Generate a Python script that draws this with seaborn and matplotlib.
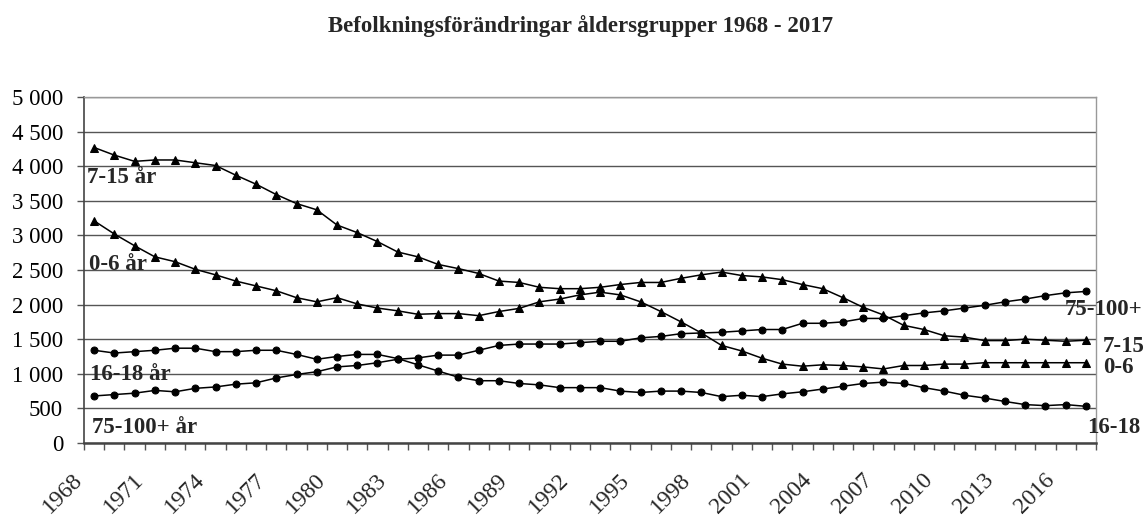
import numpy as np
import pandas as pd
import seaborn as sns
import matplotlib.pyplot as plt
from matplotlib.ticker import FixedLocator, FuncFormatter
from matplotlib.transforms import ScaledTranslation

years = list(range(1968, 2018))

age_0_6 = [3210, 3020, 2850, 2690, 2620, 2510, 2430, 2340, 2270, 2200,
           2100, 2040, 2100, 2010, 1950, 1910, 1860, 1870, 1870, 1840,
           1900, 1945, 2040, 2080, 2140, 2180, 2140, 2040, 1900, 1750,
           1590, 1410, 1330, 1225, 1140, 1110, 1130, 1120, 1100, 1070,
           1120, 1120, 1140, 1140, 1160, 1160, 1160, 1160, 1160, 1160]
age_7_15 = [4270, 4160, 4070, 4090, 4090, 4050, 4010, 3870, 3740, 3590,
            3460, 3370, 3150, 3040, 2910, 2760, 2690, 2580, 2520, 2450,
            2340, 2320, 2250, 2230, 2230, 2250, 2290, 2320, 2320, 2380,
            2430, 2470, 2420, 2400, 2360, 2290, 2230, 2100, 1960, 1850,
            1700, 1640, 1550, 1530, 1480, 1480, 1500, 1485, 1470, 1485]
age_16_18 = [1340, 1300, 1320, 1340, 1370, 1370, 1320, 1320, 1340, 1340,
             1280, 1210, 1250, 1280, 1280, 1220, 1130, 1040, 950, 900,
             900, 860, 840, 800, 800, 800, 750, 730, 750, 750,
             730, 670, 690, 670, 710, 740, 780, 820, 860, 880,
             860, 800, 750, 690, 650, 600, 555, 540, 555, 530]
age_75_100 = [680, 700, 720, 760, 740, 790, 810, 850, 870, 940,
              990, 1030, 1100, 1120, 1160, 1210, 1230, 1270, 1270, 1340,
              1410, 1430, 1430, 1430, 1450, 1470, 1470, 1520, 1540, 1580,
              1590, 1600, 1620, 1640, 1640, 1730, 1730, 1750, 1800, 1800,
              1840, 1880, 1910, 1950, 1990, 2040, 2080, 2130, 2170, 2190]

series = {
    "0-6": (age_0_6, "^"),
    "7-15": (age_7_15, "^"),
    "16-18": (age_16_18, "o"),
    "75-100+": (age_75_100, "o"),
}

sns.set_theme(style="white")
plt.rcParams["font.family"] = ["Liberation Serif", "DejaVu Serif"]

W, H = 1148, 518
fig = plt.figure(figsize=(W / 100, H / 100), dpi=100)
ax = fig.add_axes([84 / W, 1 - 443 / H, 1012 / W, 346 / H])

for name, (vals, mk) in series.items():
    df = pd.DataFrame({"year": years, "value": vals})
    sns.lineplot(data=df, x="year", y="value", ax=ax, color="black",
                 linewidth=1.1, marker=mk, markersize=6 if mk == "^" else 5,
                 markeredgecolor="black", markerfacecolor="black")

ax.set_xlim(years[0] - 0.5, years[-1] + 0.5)
ax.set_ylim(0, 5000)
ax.set_xlabel("")
ax.set_ylabel("")

# y axis
ax.yaxis.set_major_locator(FixedLocator(np.arange(0, 5001, 500)))
ax.yaxis.set_major_formatter(FuncFormatter(lambda v, p: f"{int(v):,}".replace(",", " ")))
ax.grid(axis="y", color="#555555", linewidth=1.0)
ax.tick_params(axis="y", which="major", left=True, length=5, width=1,
               color="#555555", pad=10, labelsize=16.5, labelcolor="black")

# x axis: ticks between categories, labels every third year
ax.xaxis.set_minor_locator(FixedLocator(np.arange(years[0] - 0.5, years[-1] + 1, 1)))
ax.xaxis.set_major_locator(FixedLocator(years[::3]))
ax.set_xticklabels([str(y) for y in years[::3]])
ax.tick_params(axis="x", which="minor", bottom=True, length=5, width=1, color="#555555")
ax.tick_params(axis="x", which="major", bottom=True, length=0, pad=19, labelsize=17)
shift = ScaledTranslation(-7 / 100, 0, fig.dpi_scale_trans)
for lab in ax.get_xticklabels():
    lab.set_rotation(45)
    lab.set_ha("right")
    lab.set_va("top")
    lab.set_transform(lab.get_transform() + shift)

for side in ["top", "right"]:
    ax.spines[side].set_color("#999999")
    ax.spines[side].set_linewidth(1.0)
ax.spines["left"].set_color("#444444")
ax.spines["left"].set_linewidth(1.2)
ax.spines["bottom"].set_color("#444444")
ax.spines["bottom"].set_linewidth(1.8)


def px_text(x, y, s, **kw):
    fig.text(x / W, 1 - y / H, s, fontsize=16.5, fontweight="bold",
             va="baseline", ha="left", **kw)


fig.text(581 / W, 1 - 32 / H, "Befolkningsförändringar åldersgrupper 1968 - 2017",
         fontsize=16.5, fontweight="bold", ha="center", va="baseline")

px_text(87, 183, "7-15 år")
px_text(89, 270, "0-6 år")
px_text(90, 380, "16-18 år")
px_text(92, 433, "75-100+ år")
px_text(1065, 315, "75-100+")
px_text(1103, 352, "7-15")
px_text(1103, 373, "0-6")
px_text(1087, 433, "16-18")

fig.savefig("out.png", dpi=100)
